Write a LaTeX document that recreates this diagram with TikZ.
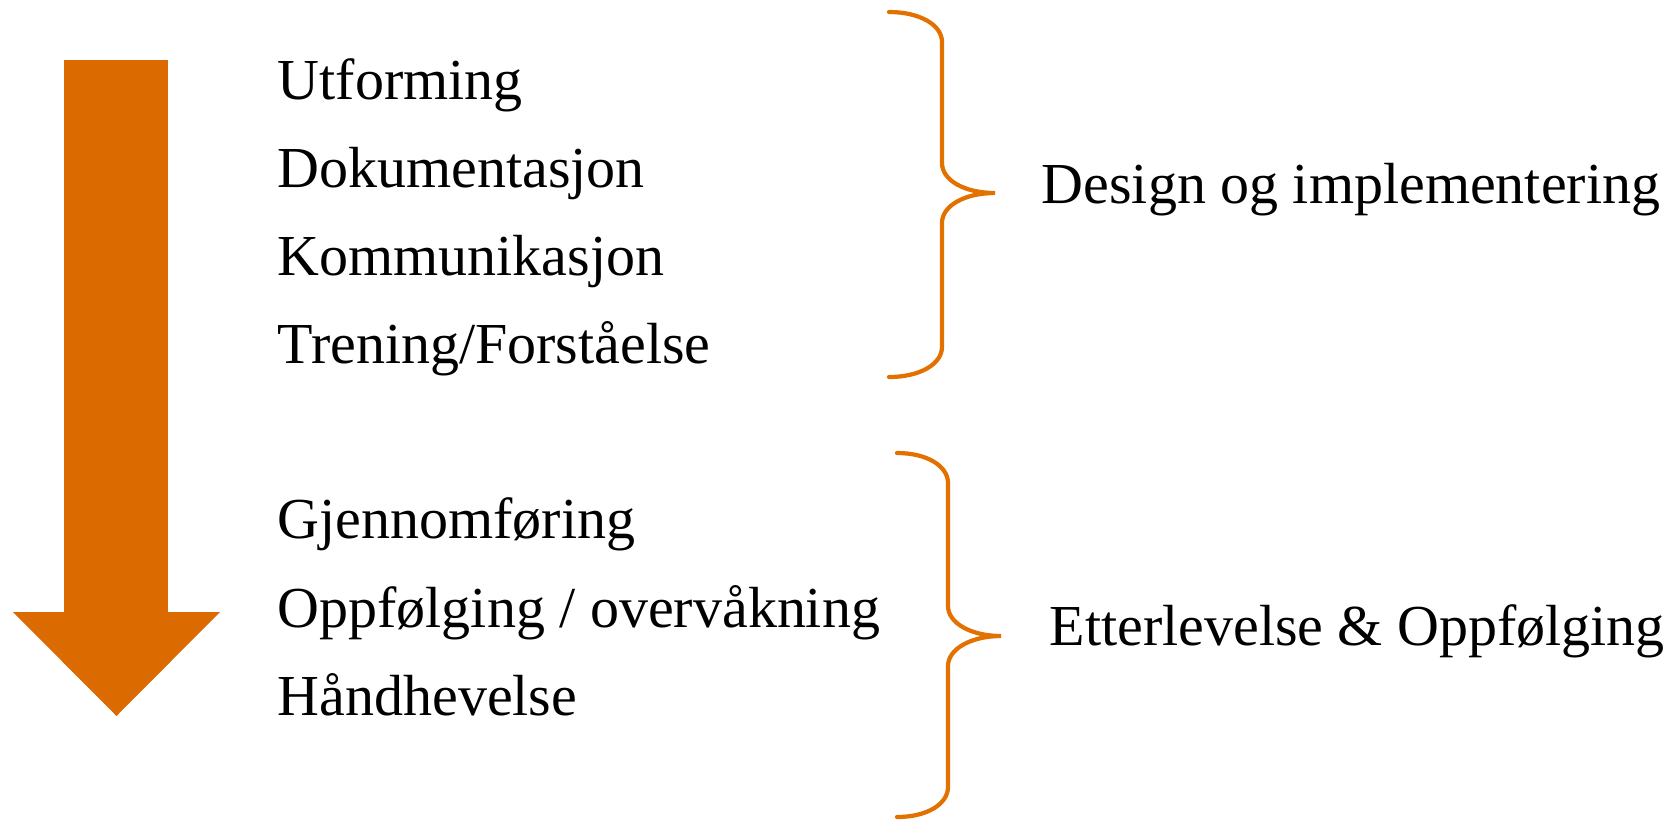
\documentclass[tikz,border=0pt]{standalone}
\usepackage{fontspec}
\setmainfont{Liberation Serif}
\definecolor{arroworange}{RGB}{219,106,0}
\definecolor{braceorange}{RGB}{226,113,0}
\begin{document}
\begin{tikzpicture}[item/.style={anchor=base west,inner sep=0pt,font=\fontsize{16.5}{20}\selectfont},
    brace/.style={draw=braceorange,line width=1.2pt,line cap=round}]
    \useasboundingbox (0,0) rectangle (16.7,-8.19);

    % big arrow
    \fill[arroworange] (0.64,-0.60) -- (1.68,-0.60) -- (1.68,-6.12) -- (2.20,-6.12) -- (1.165,-7.16) -- (0.13,-6.12) -- (0.64,-6.12) -- cycle;

    \node(U1) at (2.77,-0.99)[item]{Utforming};
    \node(U2) at (2.77,-1.87)[item]{Dokumentasjon};
    \node(U3) at (2.77,-2.75)[item]{Kommunikasjon};
    \node(U4) at (2.77,-3.63)[item]{Trening/Forståelse};

    \node(L1) at (2.77,-5.38)[item]{Gjennomføring};
    \node(L2) at (2.77,-6.27)[item]{Oppfølging / overvåkning};
    \node(L3) at (2.77,-7.15)[item]{Håndhevelse};

    % upper brace
    \draw [brace] (8.89,-0.12) .. controls (9.20,-0.12) and (9.42,-0.25) .. (9.42,-0.42) -- (9.42,-1.63)
        .. controls (9.42,-1.80) and (9.64,-1.93) .. (9.95,-1.93)
        .. controls (9.64,-1.93) and (9.42,-2.06) .. (9.42,-2.23) -- (9.42,-3.47)
        .. controls (9.42,-3.64) and (9.20,-3.77) .. (8.89,-3.77);
    \node(DI) at (10.41,-2.03)[item]{Design og implementering};

    % lower brace
    \draw [brace] (8.97,-4.53) .. controls (9.27,-4.53) and (9.48,-4.66) .. (9.48,-4.83) -- (9.48,-6.06)
        .. controls (9.48,-6.23) and (9.71,-6.36) .. (10.01,-6.36)
        .. controls (9.71,-6.36) and (9.48,-6.49) .. (9.48,-6.66) -- (9.48,-7.87)
        .. controls (9.48,-8.04) and (9.27,-8.17) .. (8.97,-8.17);
    \node(EO) at (10.49,-6.45)[item]{Etterlevelse \& Oppfølging};
\end{tikzpicture}
\end{document}
